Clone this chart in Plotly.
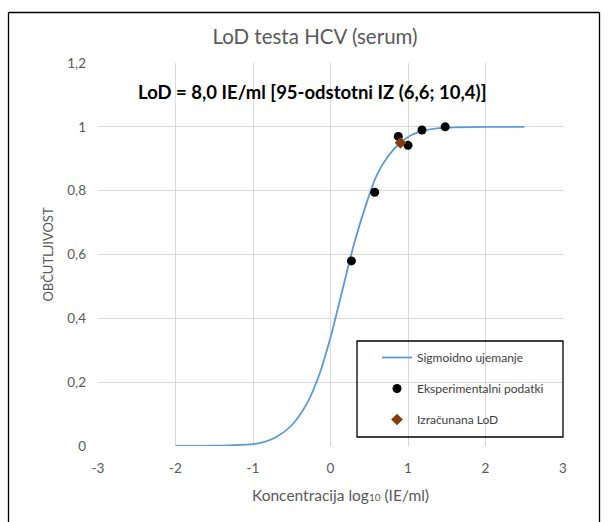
import plotly.graph_objects as go

# Fitted sigmoid (log10 concentration vs. sensitivity)
curve_x = [-2.0, -1.5, -1.0, -0.85, -0.7, -0.5, -0.3, -0.15, 0.0, 0.15, 0.3,
           0.45, 0.6, 0.75, 0.9, 1.05, 1.2, 1.4, 1.6, 2.0, 2.5]
curve_y = [0.0, 0.001, 0.006, 0.013, 0.028, 0.065, 0.135, 0.22, 0.34, 0.485, 0.63,
           0.75, 0.85, 0.91, 0.95, 0.975, 0.988, 0.996, 0.998, 1.0, 1.0]

# Experimental hit rates
exp_x = [0.27, 0.57, 0.875, 1.0, 1.18, 1.48]
exp_y = [0.58, 0.795, 0.97, 0.942, 0.99, 1.0]

# Computed LoD (8,0 IE/ml)
lod_x = [0.903]
lod_y = [0.95]

x_ticks = [-3, -2, -1, 0, 1, 2, 3]
x_labels = ["-3", "-2", "-1", "0", "1", "2", "3"]
y_ticks = [0, 0.2, 0.4, 0.6, 0.8, 1.0, 1.2]
y_labels = ["0", "0,2", "0,4", "0,6", "0,8", "1", "1,2"]

FONT = "Lato, 'Open Sans', sans-serif"
GREY = "#595959"

fig = go.Figure()
fig.add_trace(go.Scatter(
    x=curve_x, y=curve_y, mode="lines", name="Sigmoidno ujemanje",
    line=dict(color="#5B9BD5", width=1.8, shape="spline", smoothing=0.8),
    legendgroup="a"))
fig.add_trace(go.Scatter(
    x=exp_x, y=exp_y, mode="markers", name="Eksperimentalni podatki",
    marker=dict(color="black", size=9, symbol="circle"),
    legendgroup="b"))
fig.add_trace(go.Scatter(
    x=lod_x, y=lod_y, mode="markers", name="Izračunana LoD",
    marker=dict(color="#843C0C", size=9, symbol="diamond"),
    legendgroup="c"))

W, H = 609, 522
L, R, T, B = 98, 563, 63, 446


def px_x(p):
    return (p - L) / (R - L)


def px_y(p):
    return (B - p) / (B - T)


shapes = [
    # legend frame
    dict(type="rect", xref="paper", yref="paper",
         x0=px_x(357), x1=px_x(563), y0=px_y(437), y1=px_y(341),
         line=dict(color="black", width=1.3), fillcolor="rgba(0,0,0,0)", layer="above"),
    # outer chart frame (left, top, right)
    dict(type="line", xref="paper", yref="paper",
         x0=px_x(8.5), x1=px_x(8.5), y0=px_y(530), y1=px_y(12.5),
         line=dict(color="black", width=1.3)),
    dict(type="line", xref="paper", yref="paper",
         x0=px_x(8.5), x1=px_x(599.5), y0=px_y(12.5), y1=px_y(12.5),
         line=dict(color="black", width=1.3)),
    dict(type="line", xref="paper", yref="paper",
         x0=px_x(599.5), x1=px_x(599.5), y0=px_y(530), y1=px_y(12.5),
         line=dict(color="black", width=1.3)),
]

fig.update_layout(
    width=W, height=H,
    margin=dict(l=L, r=W - R, t=T, b=H - B),
    paper_bgcolor="white", plot_bgcolor="white",
    font=dict(family=FONT, color=GREY, size=13),
    title=dict(text="LoD testa HCV (serum)", x=315 / W, xanchor="center",
               y=1 - 37 / H, yanchor="middle",
               font=dict(family=FONT, size=20.5, color=GREY)),
    xaxis=dict(range=[-3, 3], tickvals=x_ticks, ticktext=x_labels,
               showgrid=True, gridcolor="#D9D9D9", gridwidth=1,
               zeroline=False, showline=False, ticks="",
               ticklabelstandoff=12,
               tickfont=dict(size=13.5, color=GREY)),
    yaxis=dict(range=[0, 1.2], tickvals=y_ticks, ticktext=y_labels,
               showgrid=True, gridcolor="#D9D9D9", gridwidth=1,
               zeroline=False, showline=False, ticks="",
               ticklabelstandoff=11,
               tickfont=dict(size=13.5, color=GREY),
               title=dict(text="OBČUTLJIVOST",
                          font=dict(size=13, color=GREY), standoff=10)),
    showlegend=True,
    legend=dict(x=px_x(377), y=px_y(343), xanchor="left", yanchor="top",
                bgcolor="rgba(0,0,0,0)", borderwidth=0,
                traceorder="grouped", tracegroupgap=12,
                font=dict(family=FONT, size=12, color="#404040")),
    shapes=shapes,
    annotations=[
        dict(text="<b>LoD = 8,0 IE/ml [95-odstotni IZ (6,6; 10,4)]</b>",
             xref="paper", yref="paper", x=px_x(312), y=px_y(92),
             xanchor="center", yanchor="middle", showarrow=False,
             font=dict(family=FONT, size=18.5, color="black")),
        dict(text="Koncentracija log<span style='font-size:10px'>10</span> (IE/ml)",
             xref="paper", yref="paper", x=px_x(340), y=px_y(495),
             xanchor="center", yanchor="middle", showarrow=False,
             font=dict(family=FONT, size=15.5, color=GREY)),
    ],
)

fig.write_html("out.html")
